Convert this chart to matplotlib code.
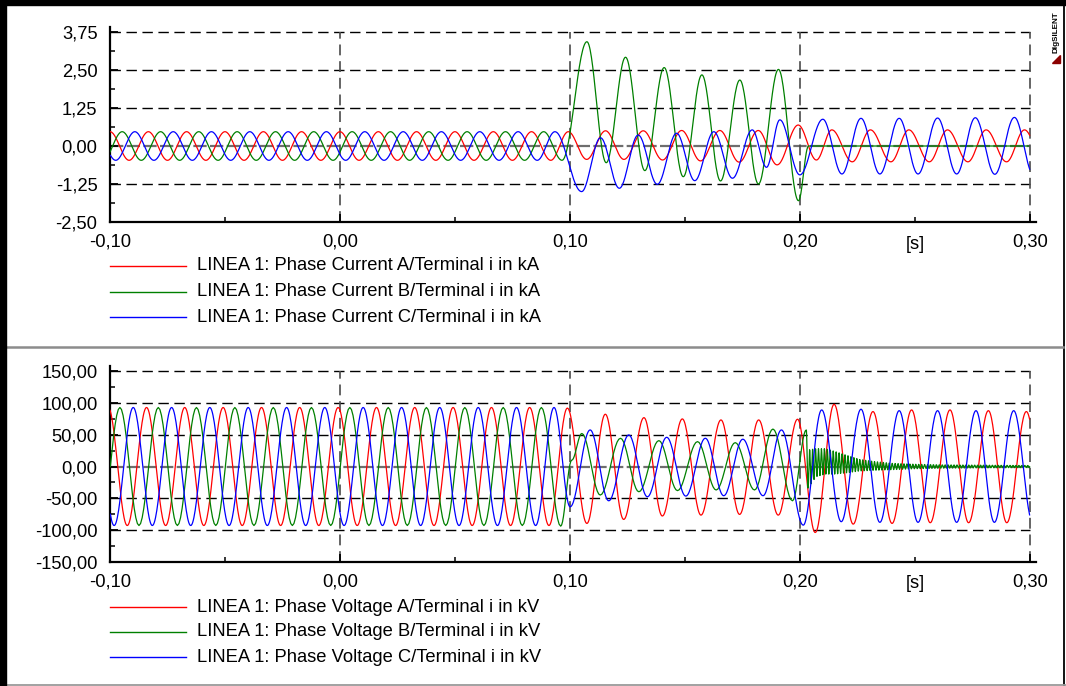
import numpy as np
import matplotlib
matplotlib.use("Agg")
import matplotlib.pyplot as plt
from matplotlib.patches import Rectangle, Polygon
from matplotlib.lines import Line2D

plt.rcParams['font.family'] = ['Liberation Sans', 'DejaVu Sans']

# ---------------- data: waveform extrema (time in ms) ----------------
# Phase currents (kA)
ia_t = [-108.3, -100.0, -91.7, -83.3, -75.0, -66.7, -58.3, -50.0, -41.7, -33.3, -25.0, -16.7, -8.3,
        0.0, 8.3, 16.7, 25.0, 33.3, 41.7, 50.0, 58.3, 66.7, 75.0, 83.3, 91.7,
        99.3, 107.3, 115.5, 123.5, 131.9, 140.3, 148.6, 156.8, 165.2, 173.6, 181.9, 190.1, 199.3,
        207.2, 213.9, 222.8, 230.7, 239.6, 247.4, 256.3, 264.2, 273.1, 281.0, 289.9, 297.7, 306.0]
ia_v = [-0.47, 0.47, -0.47, 0.47, -0.47, 0.47, -0.47, 0.47, -0.47, 0.47, -0.47, 0.47, -0.47,
        0.47, -0.47, 0.47, -0.47, 0.47, -0.47, 0.47, -0.47, 0.47, -0.47, 0.47, -0.47,
        0.47, -0.44, 0.50, -0.44, 0.50, -0.46, 0.51, -0.49, 0.51, -0.53, 0.51, -0.62, 0.69,
        -0.46, 0.53, -0.52, 0.53, -0.52, 0.53, -0.52, 0.53, -0.52, 0.53, -0.52, 0.53, -0.52]

ib_t = [-103.0, -94.7, -86.4, -78.0, -69.7, -61.4, -53.0, -44.7, -36.4, -28.0, -19.7, -11.4, -3.0,
        5.3, 13.6, 22.0, 30.3, 38.6, 47.0, 55.3, 63.6, 72.0, 80.3, 88.6, 96.6,
        107.4, 115.8, 124.2, 132.6, 141.0, 149.3, 157.4, 165.5, 173.9, 182.0, 190.7, 199.4,
        203.8, 310.0]
ib_v = [-0.47, 0.47, -0.47, 0.47, -0.47, 0.47, -0.47, 0.47, -0.47, 0.47, -0.47, 0.47, -0.47,
        0.47, -0.47, 0.47, -0.47, 0.47, -0.47, 0.47, -0.47, 0.47, -0.47, 0.47, -0.47,
        3.43, -0.55, 2.92, -0.81, 2.58, -1.01, 2.34, -1.15, 2.17, -1.25, 2.52, -1.80,
        0.0, 0.0]

ic_t = [-105.9, -97.5, -89.2, -80.9, -72.5, -64.2, -55.9, -47.5, -39.2, -30.9, -22.5, -14.2, -5.9,
        2.5, 10.8, 19.2, 27.5, 35.8, 44.1, 52.5, 60.8, 69.2, 77.5, 85.8, 93.5,
        105.1, 113.3, 121.5, 129.7, 138.0, 146.4, 154.3, 162.6, 170.7, 179.3, 185.5, 191.3, 200.0,
        210.0, 218.3, 226.6, 234.8, 243.2, 251.4, 259.9, 268.2, 276.3, 284.8, 293.3, 301.6]
ic_v = [0.47, -0.47, 0.47, -0.47, 0.47, -0.47, 0.47, -0.47, 0.47, -0.47, 0.47, -0.47, 0.47,
        -0.47, 0.47, -0.47, 0.47, -0.47, 0.47, -0.47, 0.47, -0.47, 0.47, -0.47, 0.47,
        -1.50, 0.27, -1.39, 0.36, -1.26, 0.42, -1.14, 0.47, -1.06, 0.53, -0.70, 0.86, -0.95,
        0.88, -0.92, 0.91, -0.92, 0.91, -0.92, 0.92, -0.92, 0.93, -0.93, 0.94, -0.94]

# Phase voltages (kV)
va_t = [-100.8, -92.5, -84.1, -75.8, -67.5, -59.2, -50.8, -42.5, -34.1, -25.8, -17.5, -9.2, -0.8,
        7.5, 15.9, 24.2, 32.5, 40.9, 49.2, 57.5, 65.9, 74.2, 82.5, 90.9, 98.9,
        107.4, 115.4, 123.4, 132.2, 140.2, 148.9, 157.0, 165.7, 173.8, 182.1, 190.6, 199.0,
        206.7, 214.9, 223.2, 231.8, 240.1, 248.6, 256.7, 265.3, 273.4, 282.0, 290.0, 298.5, 306.8]
va_v = [93, -93, 93, -93, 93, -93, 93, -93, 93, -93, 93, -93, 93,
        -93, 93, -93, 93, -93, 93, -93, 93, -93, 93, -93, 92,
        -89.7, 82.4, -83.4, 77.0, -78.0, 75.0, -76.6, 73.4, -75.5, 73.4, -76.6, 74.5,
        -104.0, 98.0, -90.8, 86.6, -89.7, 89.2, -88.6, 89.2, -88.6, 88.0, -88.6, 86.6, -88.0]

vb_t = [-104.0, -95.7, -87.4, -79.0, -70.7, -62.4, -54.0, -45.7, -37.4, -29.0, -20.7, -12.4, -4.0,
        4.3, 12.6, 21.0, 29.3, 37.6, 46.0, 54.3, 62.6, 71.0, 79.3, 87.6, 96.0,
        100.8, 105.2, 113.2, 122.0, 130.0, 138.7, 146.8, 155.5, 163.6, 171.9, 180.3, 188.3,
        196.8, 202.8]
vb_v = [-93, 93, -93, 93, -93, 93, -93, 93, -93, 93, -93, 93, -93,
        93, -93, 93, -93, 93, -93, 93, -93, 93, -93, 93, -94,
        10.0, 52.0, -45.0, 44.5, -39.8, 40.8, -38.0, 39.2, -37.0, 37.6, -37.0, 59.0,
        -54.0, 57.6]
# ringing of phase B voltage after the pole opens (envelope)
vb_ring_t = [203.6, 207.0, 211.0, 215.0, 220.0, 226.0, 232.0, 240.0, 250.0, 262.0, 280.0, 305.0]
vb_ring_amp = [30, 22, 20, 18, 14, 9, 7, 5, 3.5, 2.5, 2.0, 1.5]
vb_ring_mid = [-4, 6, 8, 6, 4, 2, 1, 0, 0, 0, 0, 0]
vb_ring_freq_hz = 780.0

vc_t = [-106.5, -98.2, -89.9, -81.6, -73.2, -64.9, -56.6, -48.2, -39.9, -31.6, -23.2, -14.9, -6.6,
        1.8, 10.1, 18.5, 26.8, 35.1, 43.4, 51.8, 60.1, 68.5, 76.8, 85.1, 93.1,
        100.1, 108.8, 116.9, 125.6, 133.7, 142.1, 150.4, 158.9, 166.9, 175.2, 184.0, 192.0,
        201.5, 209.5, 218.0, 226.6, 234.8, 243.2, 251.4, 259.9, 268.2, 276.6, 284.6, 293.0, 301.3]
vc_v = [93, -93, 93, -93, 93, -93, 93, -93, 93, -93, 93, -93, 93,
        -93, 93, -93, 93, -93, 93, -93, 93, -93, 93, -93, 93,
        -63.5, 57.6, -54.0, 49.7, -47.7, 46.0, -46.6, 44.5, -46.0, 43.0, -46.0, 57.6,
        -92.4, 89.2, -87.0, 90.3, -88.0, 88.0, -88.0, 88.0, -88.0, 88.0, -88.0, 88.0, -88.0]

cur_labels = ["LINEA 1: Phase Current A/Terminal i in kA",
              "LINEA 1: Phase Current B/Terminal i in kA",
              "LINEA 1: Phase Current C/Terminal i in kA"]
vol_labels = ["LINEA 1: Phase Voltage A/Terminal i in kV",
              "LINEA 1: Phase Voltage B/Terminal i in kV",
              "LINEA 1: Phase Voltage C/Terminal i in kV"]
x_ticks = [-0.10, 0.00, 0.10, 0.20, 0.30]
cur_ticks = [-2.50, -1.25, 0.00, 1.25, 2.50, 3.75]
vol_ticks = [-150, -100, -50, 0, 50, 100, 150]
colors = ['#ff0000', '#008000', '#0000ff']

T_END = 0.300


# ---------------- helpers ----------------
def smooth(t_ms, v, n=30):
    """Smooth half-cosine strokes between successive extrema."""
    t = np.asarray(t_ms, float) / 1000.0
    v = np.asarray(v, float)
    xs, ys = [], []
    s = np.linspace(0, 1, n, endpoint=False)
    for i in range(len(t) - 1):
        xs.append(t[i] + (t[i + 1] - t[i]) * s)
        ys.append(v[i] + (v[i + 1] - v[i]) * (1 - np.cos(np.pi * s)) / 2)
    xs.append([t[-1]])
    ys.append([v[-1]])
    x = np.concatenate(xs)
    y = np.concatenate(ys)
    keep = (x >= -0.100) & (x <= T_END)
    return x[keep], y[keep]


def ring_extrema(t_env, amp, mid, f, t_end=305.0):
    half = 1000.0 / (2 * f)
    tt = np.arange(t_env[0], t_end, half)
    a = np.interp(tt, t_env, amp)
    m = np.interp(tt, t_env, mid)
    sign = np.where(np.arange(len(tt)) % 2 == 0, -1.0, 1.0)
    return list(tt), list(m + sign * a)


W, H = 1066, 686
fig = plt.figure(figsize=(W / 100, H / 100), dpi=100)


def fx(px):
    return px / W


def fy(py):
    return 1 - py / H


FS = 13.2


def setup_axes(ax, yt, ylo, yhi, ytop_ext, fmt, minor_step):
    ax.set_xlim(-0.10, 0.3027)
    ax.set_ylim(ylo, ytop_ext)
    for sp in ['top', 'right']:
        ax.spines[sp].set_visible(False)
    for sp in ['left', 'bottom']:
        ax.spines[sp].set_linewidth(1.6)
        ax.spines[sp].set_color('black')
    ax.set_xticks(x_ticks)
    ax.set_xticklabels([f"{v:.2f}".replace('.', ',') for v in x_ticks], fontsize=FS)
    ax.set_xticks(np.arange(-0.05, 0.30, 0.1), minor=True)
    ax.set_yticks(yt)
    ax.set_yticklabels([fmt(v) for v in yt], fontsize=FS)
    ax.set_yticks(np.arange(ylo + minor_step, yhi, 2 * minor_step), minor=True)
    ax.tick_params(which='major', direction='in', length=6, width=1.3, pad=9, colors='black')
    ax.tick_params(axis='x', which='major', pad=8.5)
    ax.tick_params(which='minor', direction='in', length=3.5, width=1.1)
    ax.annotate('[s]', xy=(0.25, 0), xycoords=('data', 'axes fraction'),
                xytext=(0, -8.5 - 1.3), textcoords='offset points',
                ha='center', va='top', fontsize=FS)
    # grid
    for y in yt:
        if y == ylo:
            continue
        if y == 0:
            ax.hlines(0, -0.10, 0.30, colors='#6e6e6e', linewidth=1.6,
                      linestyles=(0, (6, 1.5)), zorder=1)
        else:
            ax.hlines(y, -0.10, 0.30, colors='black', linewidth=1.0,
                      linestyles=(0, (7.5, 4)), zorder=1)
    ax.vlines([0.0, 0.1, 0.2, 0.3], ylo, yhi, colors='#4a4a4a', linewidth=1.2,
              linestyles=(0, (6.5, 3.5)), zorder=1)


# ---------------- top panel: currents ----------------
ax1 = fig.add_axes([fx(110), fy(222), fx(926), (222 - 27) / H])
setup_axes(ax1, cur_ticks, -2.50, 3.75, 3.75 + 5 / 30.4,
           lambda v: f"{v:.2f}".replace('.', ','), 0.625)
for (tt, vv), c in zip([(ia_t, ia_v), (ib_t, ib_v), (ic_t, ic_v)], colors):
    x, y = smooth(tt, vv)
    ax1.plot(x, y, color=c, lw=0.9, zorder=3)

# ---------------- bottom panel: voltages ----------------
ax2 = fig.add_axes([fx(110), fy(561.7), fx(926), (561.7 - 366.3) / H])
setup_axes(ax2, vol_ticks, -150, 150, 150 + 5 / 0.6333,
           lambda v: f"{v:.2f}".replace('.', ','), 25)
rt, rv = ring_extrema(vb_ring_t, vb_ring_amp, vb_ring_mid, vb_ring_freq_hz)
vb_all_t = vb_t + rt
vb_all_v = vb_v + rv
for (tt, vv), c in zip([(va_t, va_v), (vb_all_t, vb_all_v), (vc_t, vc_v)], colors):
    n = 30 if tt is not vb_all_t else 12
    x, y = smooth(tt, vv, n=n)
    ax2.plot(x, y, color=c, lw=0.9, zorder=3)

# ---------------- legends ----------------
for labels, ys in [(cur_labels, [266, 291.5, 317]), (vol_labels, [607, 632, 657])]:
    for lab, y, c in zip(labels, ys, colors):
        fig.add_artist(Line2D([fx(110), fx(186)], [fy(y), fy(y)], color=c, lw=1.0,
                              transform=fig.transFigure))
        fig.text(fx(197), fy(y), lab, fontsize=FS, ha='left', va='center')

# ---------------- frame ----------------
fig.add_artist(Rectangle((0, fy(5)), 1, 5 / H, transform=fig.transFigure,
                         color='black', zorder=10))
fig.add_artist(Rectangle((0, 0), 6 / W, 1, transform=fig.transFigure,
                         color='black', zorder=10))
fig.add_artist(Line2D([fx(1063.5), fx(1063.5)], [0, 1], color='black', lw=1.3,
                      transform=fig.transFigure))
fig.add_artist(Line2D([fx(6), 1], [fy(684.5), fy(684.5)], color='#9a9a9a', lw=1.3,
                      transform=fig.transFigure))
fig.add_artist(Line2D([fx(6), fx(1063)], [fy(347), fy(347)], color='#8c8c8c', lw=1.8,
                      transform=fig.transFigure))

# ---------------- DIgSILENT logo ----------------
fig.text(fx(1056), fy(32), "DIgSILENT", rotation=90, fontsize=5.9, fontweight='bold',
         ha='center', va='center', color='black')
fig.add_artist(Polygon([[fx(1051.5), fy(62.5)], [fx(1059.5), fy(62.5)], [fx(1059.5), fy(55)]],
                       closed=True, transform=fig.transFigure, color='#8b0000'))

fig.savefig("out.png", dpi=100)
